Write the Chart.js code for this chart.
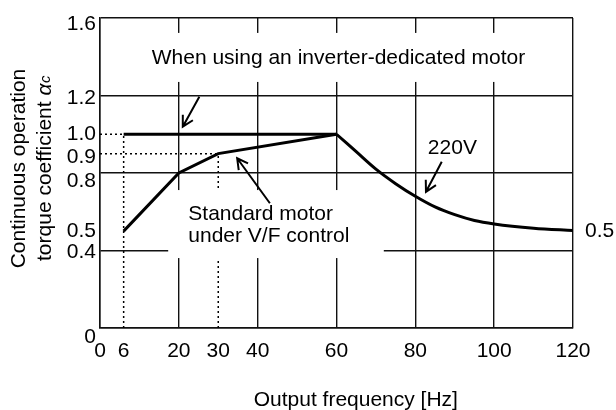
<!DOCTYPE html>
<html>
<head>
<meta charset="utf-8">
<script src="https://cdn.jsdelivr.net/npm/chart.js@4.4.1/dist/chart.umd.min.js"></script>
<style>
  html, body { margin: 0; padding: 0; background: #fff; }
</style>
</head>
<body>
<canvas id="torqueChart" width="616" height="410"></canvas>
<script>
// axis ticks
const freqTicks = [0, 6, 20, 30, 40, 60, 80, 100, 120];
const freqGrid = [0, 20, 40, 60, 80, 100, 120];
const coefTicks = [0, 0.4, 0.5, 0.8, 0.9, 1.0, 1.2, 1.6];
const coefGrid = [0, 0.4, 0.8, 1.2, 1.6];
const rightTicks = [0.5];

// curves
const inverterFreq = [6, 60];
const inverterCoef = [1.0, 1.0];
const standardFreq = [6, 20, 30, 60];
const standardCoef = [0.5, 0.8, 0.9, 1.0];
const v220Freq = [60, 65, 70, 75, 80, 85, 90, 95, 100, 110, 120];
const v220Coef = [1.0, 0.91, 0.82, 0.745, 0.68, 0.625, 0.585, 0.555, 0.537, 0.515, 0.503];

// dotted guides, one pair per line
const guideFreq = [[0, 6], [0, 30], [6, 6], [30, 30]];
const guideCoef = [[1.0, 1.0], [0.9, 0.9], [0, 1.0], [0, 0.9]];

// small downward nudges of some y labels (px), the drawing spreads them apart
const coefLabelShift = { 0: 9, 0.4: 2, 0.8: 8, 0.9: 4, 1.2: 3, 1.6: 6 };

const FONT = '"Liberation Sans", Arial, sans-serif';
Chart.defaults.font.family = FONT;
Chart.defaults.color = "#000";

function pts(xs, ys) {
  return xs.map((v, i) => ({ x: v, y: ys[i] }));
}

function arrow(ctx, x0, y0, x1, y1) {
  const a = Math.atan2(y1 - y0, x1 - x0);
  const len = 12, spread = 0.5;
  ctx.beginPath();
  ctx.moveTo(x0, y0);
  ctx.lineTo(x1, y1);
  ctx.moveTo(x1 - len * Math.cos(a - spread), y1 - len * Math.sin(a - spread));
  ctx.lineTo(x1, y1);
  ctx.lineTo(x1 - len * Math.cos(a + spread), y1 - len * Math.sin(a + spread));
  ctx.stroke();
}

const notes = {
  id: "notes",
  afterDatasetsDraw(chart) {
    const { ctx, scales: { x, y } } = chart;
    const px = (v) => x.getPixelForValue(v);
    const py = (v) => y.getPixelForValue(v);
    ctx.save();
    // white panels behind the labels break the grid
    ctx.fillStyle = "#fff";
    ctx.fillRect(px(10.5), py(1.523), px(111) - px(10.5), py(1.27) - py(1.523));
    ctx.fillRect(px(17.3), py(0.712), px(72) - px(17.3), py(0.361) - py(0.712));

    ctx.fillStyle = "#000";
    ctx.font = "21px " + FONT;
    ctx.textBaseline = "middle";
    ctx.textAlign = "center";
    ctx.fillText("When using an inverter-dedicated motor", px(60.5), py(1.393));
    ctx.fillText("220V", px(89.4), py(0.927));
    ctx.textAlign = "left";
    ctx.fillText("Standard motor", px(22.4), py(0.588));
    ctx.fillText("under V/F control", px(22.4), py(0.475));

    ctx.strokeStyle = "#000";
    ctx.lineWidth = 2;
    arrow(ctx, px(25.2), py(1.194), px(21.0), py(1.039));
    arrow(ctx, px(43.1), py(0.644), px(34.8), py(0.876));
    arrow(ctx, px(86.7), py(0.858), px(82.7), py(0.703));

    // x axis title
    ctx.textAlign = "center";
    ctx.font = "21px " + FONT;
    ctx.fillText("Output frequency [Hz]", px(64.9), x.bottom - 10);

    // y axis title, rotated, with italic alpha and small italic c
    ctx.translate(y.left, py(0.823));
    ctx.rotate(-Math.PI / 2);
    ctx.textAlign = "center";
    ctx.fillText("Continuous operation", 0, 19);
    const head = "torque coefficient ";
    const wHead = ctx.measureText(head).width;
    ctx.font = "italic 21px " + FONT;
    const wA = ctx.measureText("\u03b1").width;
    ctx.font = "italic 15px " + FONT;
    const wC = ctx.measureText("c").width;
    let cx = -(wHead + wA + wC) / 2;
    ctx.textAlign = "left";
    ctx.font = "21px " + FONT;
    ctx.fillText(head, cx, 45);
    cx += wHead;
    ctx.font = "italic 21px " + FONT;
    ctx.fillText("\u03b1", cx, 45);
    cx += wA + 0.5;
    ctx.font = "italic 15px " + FONT;
    ctx.fillText("c", cx, 46);
    ctx.restore();
  },
};

function initializeChart() {
  const ctx = document.getElementById("torqueChart").getContext("2d");

  const guides = guideFreq.map((f, i) => ({
    data: pts(f, guideCoef[i]),
    borderColor: "#000",
    borderWidth: 1.5,
    borderDash: [2, 3],
    pointRadius: 0,
  }));

  new Chart(ctx, {
    type: "line",
    data: {
      datasets: [
        ...guides,
        {
          label: "Inverter-dedicated motor",
          data: pts(inverterFreq, inverterCoef),
          borderColor: "#000",
          borderWidth: 3,
          pointRadius: 0,
        },
        {
          label: "Standard motor under V/F control",
          data: pts(standardFreq, standardCoef),
          borderColor: "#000",
          borderWidth: 3,
          pointRadius: 0,
        },
        {
          label: "220V",
          data: pts(v220Freq, v220Coef),
          borderColor: "#000",
          borderWidth: 3,
          pointRadius: 0,
          cubicInterpolationMode: "monotone",
        },
      ],
    },
    options: {
      responsive: false,
      animation: false,
      layout: { padding: { top: 18, left: 0, right: 0, bottom: 0 } },
      plugins: { legend: { display: false }, tooltip: { enabled: false } },
      scales: {
        x: {
          type: "linear",
          min: 0,
          max: 120,
          afterBuildTicks: (s) => { s.ticks = freqTicks.map((v) => ({ value: v })); },
          afterFit: (s) => { s.height = 82; },
          grid: {
            drawTicks: false,
            lineWidth: 1.4,
            color: (c) => (c.tick && freqGrid.includes(c.tick.value) ? "#111" : "rgba(0,0,0,0)"),
          },
          border: { color: "#111", width: 1.5 },
          ticks: { font: { size: 21 }, padding: 11, maxRotation: 0, autoSkip: false },
        },
        y: {
          min: 0,
          max: 1.6,
          afterBuildTicks: (s) => { s.ticks = coefTicks.map((v) => ({ value: v })); },
          afterFit: (s) => { s.width = 100; },
          grid: {
            drawTicks: false,
            lineWidth: 1.4,
            color: (c) => (c.tick && coefGrid.includes(c.tick.value) ? "#111" : "rgba(0,0,0,0)"),
          },
          border: { color: "#111", width: 1.5 },
          ticks: {
            padding: 4,
            autoSkip: false,
            font: (c) => {
              const s = c.tick ? coefLabelShift[c.tick.value] : 0;
              return { size: 21, lineHeight: s ? 2 * s + "px" : 1.2 };
            },
            callback: (v) => {
              const t = v === 0 ? "0" : v.toFixed(1);
              return coefLabelShift[v] ? ["", t] : t;
            },
          },
        },
        y2: {
          position: "right",
          min: 0,
          max: 1.6,
          afterBuildTicks: (s) => { s.ticks = rightTicks.map((v) => ({ value: v })); },
          afterFit: (s) => { s.width = 43; },
          grid: {
            display: true,
            drawOnChartArea: false,
            drawTicks: true,
            tickLength: 12,
            tickColor: "rgba(0,0,0,0)",
          },
          border: { display: false },
          ticks: { font: { size: 21 }, padding: 0, callback: (v) => v.toFixed(1) },
        },
      },
    },
    plugins: [notes],
  });
}

if (document.readyState === "loading") {
  document.addEventListener("DOMContentLoaded", initializeChart);
} else {
  initializeChart();
}
</script>
</body>
</html>
